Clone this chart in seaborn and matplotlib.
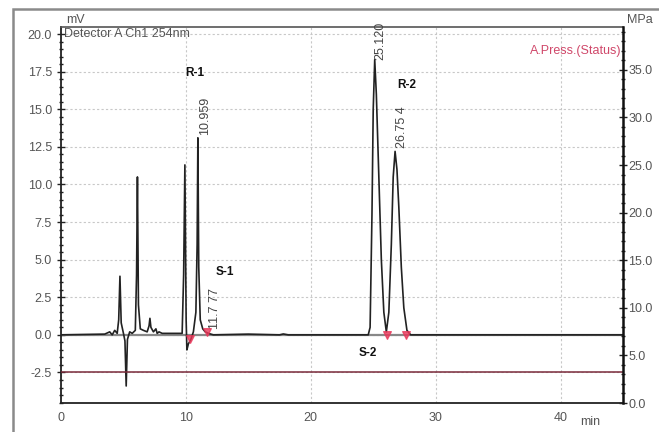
import matplotlib
matplotlib.use("Agg")
import matplotlib.pyplot as plt
import seaborn as sns
import numpy as np
import pandas as pd
from matplotlib.patches import Rectangle
from matplotlib.ticker import MultipleLocator, FormatStrFormatter

# ---- data ----
time_min = [0.0, 3.5, 3.9, 4.1, 4.3, 4.5, 4.62, 4.72, 4.82, 5.0,
            5.12, 5.22, 5.32, 5.5, 5.7, 5.95, 6.05, 6.12, 6.2, 6.35,
            6.6, 6.9, 7.05, 7.12, 7.2, 7.4, 7.6, 7.7, 7.85, 8.1,
            9.0, 9.7, 9.82, 9.92, 10.02, 10.08, 10.2, 10.4, 10.6, 10.8,
            10.9, 10.96, 11.03, 11.15, 11.35, 11.55, 11.8, 12.2, 15.0, 17.5,
            17.8, 18.2, 24.6, 24.75, 24.9, 25.0, 25.12, 25.25, 25.45, 25.65,
            25.85, 26.05, 26.25, 26.45, 26.6, 26.75, 26.9, 27.05, 27.25, 27.45,
            27.7, 28.0, 45.0]
signal_mv = [0.0, 0.05, 0.2, 0.0, 0.3, 0.1, 1.0, 3.9, 0.8, 0.1,
             -0.4, -3.4, -0.3, 0.2, 0.1, 0.3, 4.0, 10.5, 2.0, 0.4,
             0.3, 0.2, 0.6, 1.1, 0.5, 0.2, 0.4, 0.1, 0.2, 0.1,
             0.1, 0.1, 4.0, 11.3, 1.0, -1.0, -0.6, -0.3, 0.2, 1.5,
             6.0, 13.1, 4.5, 1.0, 0.4, 0.2, 0.1, 0.0, 0.05, 0.0,
             0.06, 0.0, 0.0, 0.5, 8.0, 15.0, 18.3, 16.0, 10.5, 5.0,
             1.5, 0.2, 1.5, 6.0, 10.5, 12.2, 11.0, 8.5, 4.5, 1.8,
             0.3, 0.0, 0.0]

press_time = [0.0, 20.0, 45.0]
press_mpa = [3.3, 3.3, 3.3]

marker_time = [10.3, 11.7, 26.1, 27.6]
marker_mv = [-0.3, 0.2, 0.0, 0.0]

peak_rt_labels = ["10.959", "11.7 77", "25.120", "26.75 4"]
peak_rt_pos = [11.55, 12.35, 25.6, 27.3]
peak_rt_base = [13.3, 0.4, 18.3, 12.4]

name_labels = ["R-1", "S-1", "R-2", "S-2"]
name_time = [10.7, 13.1, 27.7, 24.6]
name_mv = [17.4, 4.2, 16.6, -1.2]

x_ticks = [0, 10, 20, 30, 40]
y_ticks = [-2.5, 0.0, 2.5, 5.0, 7.5, 10.0, 12.5, 15.0, 17.5, 20.0]
y2_ticks = [0.0, 5.0, 10.0, 15.0, 20.0, 25.0, 30.0, 35.0]

# ---- style ----
sns.set_style("white")
plt.rcParams['font.family'] = ['Liberation Sans', 'DejaVu Sans']
txt_col = '#555555'

fig = plt.figure(figsize=(6.59, 4.32), dpi=100)
ax = fig.add_axes([61/659, 1-403/432, (623-61)/659, (403-27)/432])

df = pd.DataFrame({"t": time_min, "mv": signal_mv})
ax.axhline(0, color='#888888', lw=1.6, zorder=1)
sns.lineplot(data=df, x="t", y="mv", ax=ax, color='#222222', lw=1.2,
             estimator=None, sort=False, zorder=3)

ax.set_xlim(0, 45)
ax.set_ylim(-4.53, 20.47)
ax.set_xticks(x_ticks)
ax.set_yticks(y_ticks)
ax.yaxis.set_major_formatter(FormatStrFormatter('%.1f'))
ax.xaxis.set_minor_locator(MultipleLocator(2))
ax.yaxis.set_minor_locator(MultipleLocator(0.5))
ax.tick_params(axis='both', which='major', direction='inout', length=6,
               width=1, labelsize=9, labelcolor=txt_col, colors='#222222')
ax.tick_params(axis='both', which='minor', direction='inout', length=3,
               width=1, colors='#222222')
ax.tick_params(axis='y', labelcolor=txt_col)
ax.tick_params(axis='x', labelcolor=txt_col)
ax.grid(True, which='major', color='#c8c8c8', linestyle=(0, (2, 2)), lw=0.8)
ax.set_xlabel("")
ax.set_ylabel("")
for side in ['left', 'bottom']:
    ax.spines[side].set_color('#222222')
    ax.spines[side].set_linewidth(1.3)
ax.spines['top'].set_color('#555555')
ax.spines['top'].set_linewidth(1.2)
ax.spines['right'].set_visible(False)

# markers
ax.scatter(marker_time, marker_mv, marker='v', s=30, color='#e8385a',
           zorder=4, alpha=0.8)

# peak labels
for lab, xp, yb in zip(peak_rt_labels, peak_rt_pos, peak_rt_base):
    ax.text(xp, yb, lab, rotation=90, ha='center', va='bottom',
            fontsize=9, color='#444444', clip_on=False)
for lab, xp, yp in zip(name_labels, name_time, name_mv):
    ax.text(xp, yp, lab, ha='center', va='center', fontsize=8.5,
            fontweight='bold', color='#111111')

ax.text(0.005, 20.0, "Detector A Ch1 254nm", transform=ax.get_yaxis_transform(),
        ha='left', va='center', fontsize=9, color=txt_col)
ax.text(0.998, 18.9, "A.Press.(Status)", transform=ax.get_yaxis_transform(),
        ha='right', va='center', fontsize=9, color='#d0486a')

# pressure axis
ax2 = ax.twinx()
sns.lineplot(x=press_time, y=press_mpa, ax=ax2, color='#7a2a3a', lw=1.1,
             estimator=None, sort=False)
ax2.set_ylim(0, 39.5)
ax2.set_yticks(y2_ticks)
ax2.yaxis.set_major_formatter(FormatStrFormatter('%.1f'))
ax2.yaxis.set_minor_locator(MultipleLocator(1))
ax2.tick_params(axis='y', which='major', direction='inout', length=6, width=1,
                labelsize=9, labelcolor=txt_col, colors='#222222', pad=1)
ax2.tick_params(axis='y', which='minor', direction='inout', length=3, width=1,
                colors='#222222')
ax2.set_ylabel("")
for side in ['left', 'top', 'bottom']:
    ax2.spines[side].set_visible(False)
ax2.spines['right'].set_color('#111111')
ax2.spines['right'].set_linewidth(1.8)

# outer labels
fig.text(66/659, 1-20/432, "mV", ha='left', va='center', fontsize=9, color=txt_col)
fig.text(627/659, 1-20/432, "MPa", ha='left', va='center', fontsize=9, color=txt_col)
fig.text(590/659, 1-422/432, "min", ha='center', va='center', fontsize=9, color=txt_col)

# outer frame
fig.patches.append(Rectangle((13/659, -0.05), 1.0, 1-9/432+0.05,
                             transform=fig.transFigure, fill=False,
                             edgecolor='#8a8a8a', lw=1.8, clip_on=False))

fig.savefig("out.png", dpi=100)
